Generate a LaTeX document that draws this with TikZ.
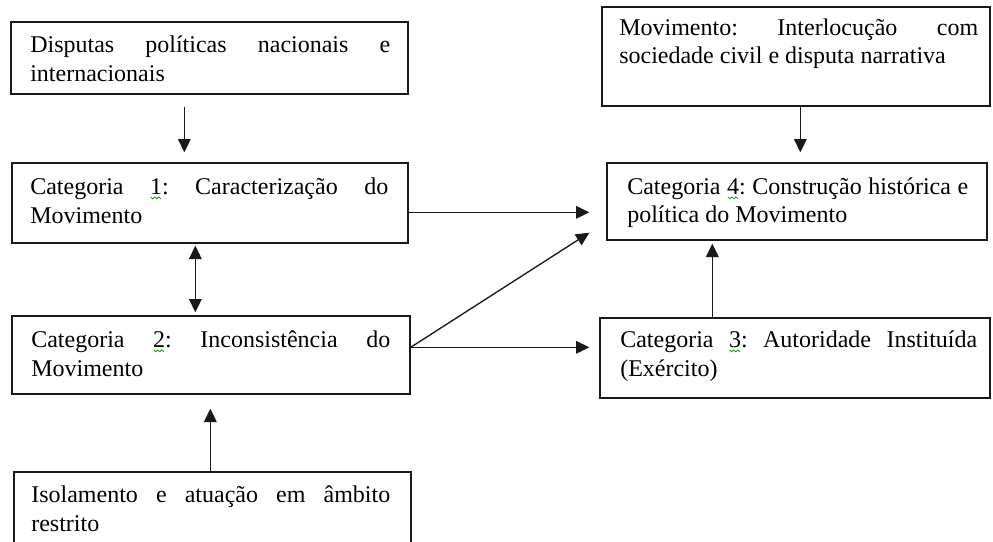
\documentclass[tikz,border=0pt]{standalone}
\usepackage{fontspec}
\setmainfont{Liberation Serif}
\usetikzlibrary{arrows.meta,calc,fit}
\frenchspacing
\newcommand\sqg[1]{\rlap{\tikz[overlay,x=1pt,y=1pt]\draw[green!55!black,line width=0.5pt] (0.5,-2.2) -- (2,-3.6) -- (3.5,-2.2) -- (5,-3.6) -- (6.5,-2.2) -- (8,-3.6);}#1}
\begin{document}
\begin{tikzpicture}[x=0.75pt,y=-0.75pt,
  box/.style={draw=black!90, line width=1pt, inner sep=0pt},
  txt/.style={anchor=base west, inner sep=0pt, font=\fontsize{18pt}{21.75pt}\selectfont},
  arr/.style={draw=black!90, line width=1pt, -{Triangle[length=10pt,width=9.5pt]}},
  darr/.style={draw=black!90, line width=1pt, {Triangle[length=10pt,width=9.5pt]}-{Triangle[length=10pt,width=9.5pt]}}]
\clip (0,0) rectangle (993,542);
\fill[white] (0,0) rectangle (993,542);
% boxes
\node[box, fit={(11,22) (408,94)}] (A) {};
\node[box, fit={(12,163) (408,243)}] (B) {};
\node[box, fit={(12,316) (410,394)}] (C) {};
\node[box, fit={(14,472) (411,570)}] (D) {};
\node[box, fit={(602,7) (990,106)}] (E) {};
\node[box, fit={(607,163) (987,240)}] (F) {};
\node[box, fit={(600,318) (990,398)}] (G) {};
% texts
\node[txt] (A1) at (30,53) {\makebox[270pt][s]{Disputas políticas nacionais e}};
\node[txt] (A2) at (30,82) {internacionais};
\node[txt] (B1) at (30,194) {\makebox[268.5pt][s]{Categoria \sqg{1}: Caracterização do}};
\node[txt] (B2) at (30,223) {Movimento};
\node[txt] (C1) at (31,347) {\makebox[269.25pt][s]{Categoria \sqg{2}: Inconsistência do}};
\node[txt] (C2) at (31,376) {Movimento};
\node[txt] (D1) at (31,502) {\makebox[269.25pt][s]{Isolamento e atuação em âmbito}};
\node[txt] (D2) at (31,531) {restrito};
\node[txt] (E1) at (619,36) {\makebox[269.25pt][s]{Movimento: Interlocução com}};
\node[txt] (E2) at (619,64) {sociedade civil e disputa narrativa};
\node[txt] (F1) at (627,194) {\makebox[255.75pt][s]{Categoria \sqg{4}: Construção histórica e}};
\node[txt] (F2) at (627,222) {política do Movimento};
\node[txt] (G1) at (620,347) {\makebox[267.75pt][s]{Categoria \sqg{3}: Autoridade Instituída}};
\node[txt] (G2) at (620,376) {(Exército)};
% connectors
\draw[arr] ($(A.south west)+(174,12)$) -- ($(B.north west)+(173,-10)$);
\draw[darr] ($(B.south west)+(184,2)$) -- ($(C.north west)+(184,-3)$);
\draw[arr] ($(D.north west)+(197,0)$) -- ($(C.south west)+(199,14)$);
\draw[arr] ($(E.south west)+(199,0)$) -- ($(F.north west)+(194,-10)$);
\draw[arr] ($(B.north east)+(0,50)$) -- ($(F.north west)+(-17,50)$);
\draw[arr] ($(C.north east)+(0,32)$) -- ($(F.south west)+(-17,-8)$);
\draw[arr] ($(C.north east)+(0,32)$) -- ($(G.north west)+(-10,30)$);
\draw[arr] ($(G.north west)+(113,0)$) -- ($(F.south west)+(106,3)$);
\end{tikzpicture}
\end{document}
